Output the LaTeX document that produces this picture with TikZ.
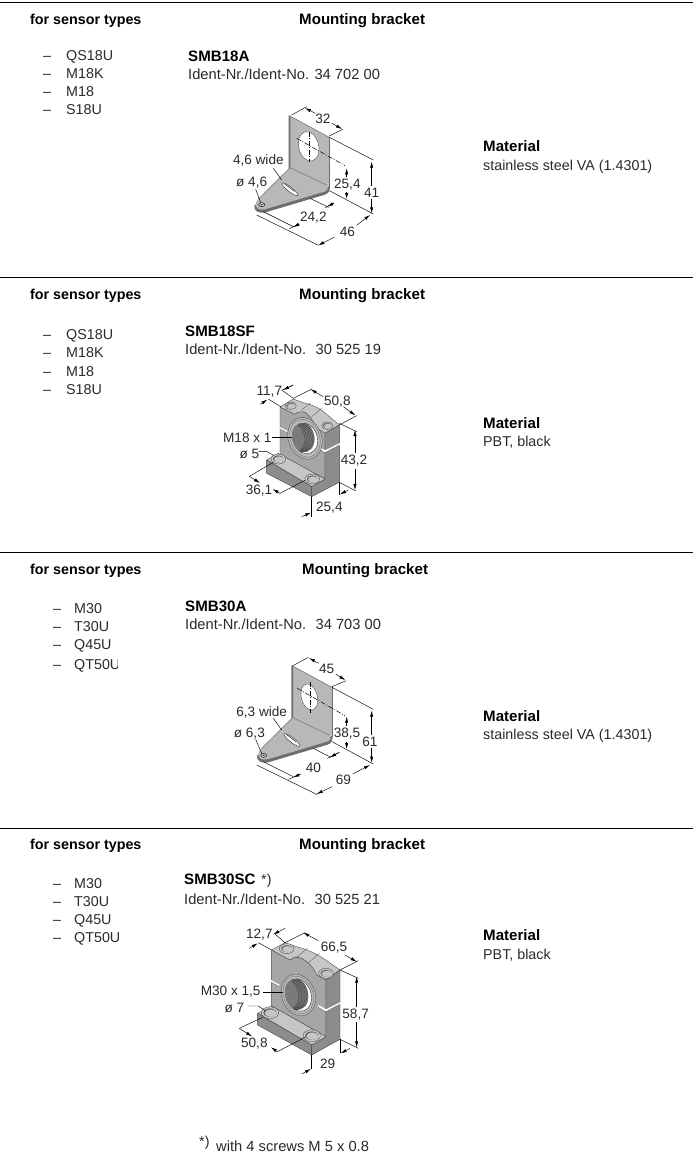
\documentclass[tikz,border=0pt]{standalone}
\usepackage{fontspec}
\setmainfont{Liberation Sans}
\usetikzlibrary{arrows.meta}
\definecolor{plate}{HTML}{B8B8B8}
\definecolor{plateedge}{HTML}{6E6E6E}
\definecolor{blockfront}{HTML}{A6A6A6}
\definecolor{blocktop}{HTML}{C6C6C6}
\definecolor{blockside}{HTML}{8C8C8C}
\definecolor{ink}{HTML}{2A2A2A}
\tikzset{
  txt/.style={anchor=base west,inner sep=0pt,font=\fontsize{14.3}{14}\selectfont,text=ink},
  idt/.style={anchor=base west,inner sep=0pt,font=\fontsize{14.7}{14}\selectfont,text=ink},
  head/.style={anchor=base west,inner sep=0pt,font=\fontsize{14.3}{14}\selectfont\bfseries,text=black},
  headb/.style={anchor=base west,inner sep=0pt,font=\fontsize{15.1}{14}\selectfont\bfseries,text=black},
  dimt/.style={anchor=center,inner sep=0pt,font=\fontsize{13.6}{13}\selectfont,text=ink},
  dimf/.style={dimt,fill=white,inner xsep=0pt,inner ysep=2pt},
  rowrule/.style={black,line width=0.6pt},
  ext/.style={black,line width=0.45pt},
  dimline/.style={black,line width=0.45pt,arrows={Latex[length=6pt,width=3.2pt]-Latex[length=6pt,width=3.2pt]}},
  dimend/.style={black,line width=0.45pt,arrows={-Latex[length=6pt,width=3.2pt]}},
  centre/.style={black,line width=0.5pt,dash pattern=on 5pt off 1.5pt on 1pt off 1.5pt},
  outl/.style={draw=black!75,line width=0.35pt,line join=round},
  zoomed/.style={x=0.33333pt,y=-0.33333pt},
}
% bracket: #1 #2 hole centre, #3 #4 radii, #5 #6 slot centre, #7 #8 small hole
\newcommand{\bracketbody}[8]{%
\fill[plate] (240,48) -- (358,112) -- (358,258) -- (240,203) -- cycle;
\fill[plateedge] (236,46) -- (241,48) -- (241,205) -- (236,208) -- cycle;
\draw[plateedge,line width=0.8pt] (358,112) -- (358,262);
\draw[plateedge,line width=0.5pt] (240,48) -- (358,112);
\fill[plateedge] (133,316) .. controls (130,334) and (148,342) .. (170,336) -- (345,284) .. controls (356,280) and (360,272) .. (360,258) -- (340,262) -- (150,310) -- cycle;
\fill[plate] (240,203) -- (352,256) .. controls (356,262) and (354,268) .. (346,274) -- (168,327) .. controls (150,332) and (134,326) .. (137,310) .. controls (139,303) and (142,300) .. (146,296) -- cycle;
\draw[plateedge,line width=0.5pt] (240,203) -- (352,256);
\draw[plateedge,line width=0.5pt] (240,203) -- (146,296);
\fill[white,draw=black!70,line width=0.4pt,rotate around={14:(#1,#2)}] (#1,#2) ellipse[x radius=#3,y radius=#4];
\fill[white,draw=black!75,line width=0.5pt,rotate around={-38:(#5,#6)}] (#5,#6) ellipse[x radius=30,y radius=7];
\draw[black!75,line width=0.6pt,rotate around={-38:(#5,#6)}] (#5-24,#6-3) -- (#5+14,#6-3);
\fill[plate!70!white,draw=black,line width=0.4pt] (#7,#8) ellipse[x radius=9,y radius=6];
\fill[black!70] (#7,#8) ellipse[x radius=4,y radius=2.5];
}
% bore: #1 #2 centre, #3 #4 outer radii, #5 #6 inner radii
\newcommand{\borehole}[6]{%
\begin{scope}[rotate around={20:(#1,#2)}]
\fill[blocktop!60!blockfront,draw=black!70,line width=0.35pt] (#1,#2) ellipse[x radius=#3,y radius=#4];
\draw[black!60,line width=0.3pt] (#1,#2) ellipse[x radius=#3-6,y radius=#4-6];
\fill[white,draw=black!80,line width=0.4pt] (#1,#2) ellipse[x radius=#5,y radius=#6];
\begin{scope}
\clip (#1,#2) ellipse[x radius=#5,y radius=#6];
\fill[black!52] (#1-8,#2-8) ellipse[x radius=#5,y radius=#6];
\foreach \k in {0,5,...,30}{
  \draw[black!78,line width=0.3pt] (#1-8-\k*0.9,#2-8-\k*0.3) ellipse[x radius=#5,y radius=#6];
}
\end{scope}
\end{scope}
}
% screw seat: #1 #2 centre, #3 size
\newcommand{\screwseat}[3]{%
\fill[blocktop!85!white,draw=black!75,line width=0.35pt] (#1,#2) ellipse[x radius=#3,y radius=#3*0.68];
\fill[black!60] (#1,#2) ellipse[x radius=#3*0.76,y radius=#3*0.5];
\fill[blocktop] (#1+2,#2+1.5) ellipse[x radius=#3*0.68,y radius=#3*0.42];
}
\begin{document}
\begin{tikzpicture}[x=1pt,y=-1pt]
\useasboundingbox (0,0) rectangle (693,1170);
\fill[white] (0,0) rectangle (693,1170);
\coordinate (L1) at (0,2); \coordinate (R1) at (693,2);
\coordinate (L2) at (0,277); \coordinate (R2) at (693,277);
\coordinate (L3) at (0,552); \coordinate (R3) at (693,552);
\coordinate (L4) at (0,828); \coordinate (R4) at (693,828);
\draw[rowrule] (L1) -- (R1);
\draw[rowrule] (L2) -- (R2);
\draw[rowrule] (L3) -- (R3);
\draw[rowrule] (L4) -- (R4);

% ---------- row 1 text
\node[head] (h1a) at (30,24) {for sensor types};
\node[headb] (h1b) at (299,24) {Mounting bracket};
\node[txt] (d1a) at (43,60) {–};
\node[txt] (s1a) at (66,60) {QS18U};
\node[txt] (d1b) at (43,78) {–};
\node[txt] (s1b) at (66,78) {M18K};
\node[txt] (d1c) at (43,96) {–};
\node[txt] (s1c) at (66,96) {M18};
\node[txt] (d1d) at (43,114) {–};
\node[txt] (s1d) at (66,114) {S18U};
\node[headb] (t1a) at (188,61) {SMB18A};
\node[idt] (t1b) at (188,79) {Ident-Nr./Ident-No. 34 702 00};
\node[headb] (m1a) at (483,151) {Material};
\node[txt] (m1b) at (483,170) {stainless steel VA (1.4301)};

% ---------- row 2 text
\node[head] (h2a) at (30,299) {for sensor types};
\node[headb] (h2b) at (299,299) {Mounting bracket};
\node[txt] (d2a) at (43,339) {–};
\node[txt] (s2a) at (66,339) {QS18U};
\node[txt] (d2b) at (43,357) {–};
\node[txt] (s2b) at (66,357) {M18K};
\node[txt] (d2c) at (43,376) {–};
\node[txt] (s2c) at (66,376) {M18};
\node[txt] (d2d) at (43,394) {–};
\node[txt] (s2d) at (66,394) {S18U};
\node[headb] (t2a) at (185,336) {SMB18SF};
\node[idt] (t2b) at (185,354) {Ident-Nr./Ident-No.~ 30 525 19};
\node[headb] (m2a) at (483,428) {Material};
\node[txt] (m2b) at (483,446) {PBT, black};

% ---------- row 3 text
\node[head] (h3a) at (30,574) {for sensor types};
\node[headb] (h3b) at (302,574) {Mounting bracket};
\node[txt] (d3a) at (53,613) {–};
\node[txt] (s3a) at (74,613) {M30};
\node[txt] (d3b) at (53,631) {–};
\node[txt] (s3b) at (74,631) {T30U};
\node[txt] (d3c) at (53,649) {–};
\node[txt] (s3c) at (74,649) {Q45U};
\node[txt] (d3d) at (53,669) {–};
\node[txt] (s3d) at (74,669) {QT50U};
\fill[white] (117.5,655) rectangle (135,675);
\node[headb] (t3a) at (185,611) {SMB30A};
\node[idt] (t3b) at (185,629) {Ident-Nr./Ident-No.~ 34 703 00};
\node[headb] (m3a) at (483,721) {Material};
\node[txt] (m3b) at (483,739) {stainless steel VA (1.4301)};

% ---------- row 4 text
\node[head] (h4a) at (30,849) {for sensor types};
\node[headb] (h4b) at (299,849) {Mounting bracket};
\node[txt] (d4a) at (53,888) {–};
\node[txt] (s4a) at (74,888) {M30};
\node[txt] (d4b) at (53,906) {–};
\node[txt] (s4b) at (74,906) {T30U};
\node[txt] (d4c) at (53,924) {–};
\node[txt] (s4c) at (74,924) {Q45U};
\node[txt] (d4d) at (53,942) {–};
\node[txt] (s4d) at (74,942) {QT50U};
\node[headb] (t4a) at (184,884) {SMB30SC};
\node[txt] (t4s) at (261,884) {*)};
\node[idt] (t4b) at (184,904) {Ident-Nr./Ident-No.~ 30 525 21};
\node[headb] (m4a) at (483,940) {Material};
\node[txt] (m4b) at (483,959) {PBT, black};
\node[txt] (fn1) at (199,1146) {*)};
\node[idt] (fn2) at (216,1151) {with 4 screws M 5 x 0.8};

% ---------- bracket 1
\begin{scope}[shift={(210,100)},zoomed]
\bracketbody{296}{139}{30}{45}{240}{268}{155}{314}
\draw[centre] (297,95) -- (297,185);
\draw[centre] (260,115) -- (405,197);
\draw[ext] (245,45) -- (290,20);
\draw[ext] (358,108) -- (398,88);
\draw[dimend] (316,40) -- (285,24);
\draw[dimend] (366,70) -- (396,87);
\draw[ext] (358,112) -- (490,180);
\draw[ext] (358,272) -- (490,342);
\draw[dimline] (485,185) -- (485,340);
\draw[dimline] (410,205) -- (410,297);
\draw[ext] (300,295) -- (356,322);
\draw[ext] (345,323) -- (372,309);
\draw[dimend] (372,309) -- (352,320);
\draw[ext] (160,335) -- (250,380);
\draw[ext] (238,386) -- (268,372);
\draw[dimend] (268,372) -- (250,381);
\draw[ext] (140,345) -- (325,436);
\draw[dimend] (372,412) -- (325,436);
\draw[dimend] (440,376) -- (480,345);
\draw[ext] (190,205) -- (215,240);
\draw[ext] (137,268) -- (152,308);
\node[dimt] (a32) at (339,56) {32};
\node[dimf] (a41) at (485,278) {41};
\node[dimf] (a254) at (412,254) {25,4};
\node[dimt] (a242) at (310,352) {24,2};
\node[dimt] (a46) at (412,394) {46};
\node[dimt] (a46w) at (145,182) {4,6 wide};
\node[dimt] (a46d) at (125,248) {ø 4,6};
\end{scope}

% ---------- clamp 1
\begin{scope}[shift={(210,375)},zoomed]
\fill[blockfront,outl] (210,96) -- (255,118) .. controls (262,110) and (275,108) .. (285,112) .. controls (315,125) and (330,150) .. (345,175) -- (345,312) -- (210,240) -- cycle;
\fill[blocktop,outl] (210,96) -- (250,72) -- (283,84) .. controls (310,90) and (330,100) .. (350,118) -- (388,150) -- (345,175) -- (318,158) .. controls (310,135) and (295,118) .. (285,112) .. controls (275,108) and (262,110) .. (255,118) -- cycle;
\fill[blockside,outl] (345,175) -- (388,150) -- (388,322) -- (305,365) -- (305,335) -- (345,312) -- cycle;
\fill[blocktop,outl] (170,255) -- (205,235) -- (345,312) -- (305,335) -- cycle;
\fill[blockfront!85!black,outl] (170,255) -- (305,335) -- (305,365) -- (170,295) -- cycle;
\fill[white] (208,155) -- (232,168) -- (232,174) -- (208,161) -- cycle;
\fill[white] (328,216) -- (345,226) -- (390,204) -- (390,210) -- (345,233) -- (328,223) -- cycle;
\draw[black!70,line width=0.3pt] (210,161) -- (232,174);
\draw[black!70,line width=0.3pt] (328,223) -- (345,233) -- (388,210);
\borehole{285}{190}{50}{64}{37}{47}
\screwseat{242}{92}{17}
\screwseat{352}{152}{17}
\screwseat{205}{252}{22}
\screwseat{307}{312}{22}
\draw[black!70,line width=0.3pt] (275,105) -- (302,83);
\draw[black!70,line width=0.3pt] (305,125) -- (335,100);
\draw[ext] (250,70) -- (215,45);
\draw[ext] (212,95) -- (175,72);
\draw[dimend] (150,88) -- (172,74);
\draw[ext] (217,45) -- (250,30);
\draw[dimend] (250,30) -- (219,45);
\draw[ext] (250,70) -- (305,42);
\draw[ext] (388,150) -- (440,122);
\draw[dimend] (340,65) -- (302,43);
\draw[dimend] (400,95) -- (436,121);
\draw[ext] (388,145) -- (440,170);
\draw[ext] (388,322) -- (438,348);
\draw[dimline] (435,165) -- (435,345);
\draw[ext] (305,365) -- (305,425);
\draw[ext] (388,322) -- (388,360);
\draw[dimend] (275,425) -- (303,413);
\draw[dimend] (415,345) -- (390,358);
\draw[ext] (118,304) -- (190,262);
\draw[dimend] (118,304) -- (150,324);
\draw[ext] (210,355) -- (285,316);
\draw[dimend] (210,355) -- (188,342);
\draw[ext] (185,188) -- (245,188);
\draw[ext] (145,230) -- (172,230) -- (192,242);
\node[dimt] (b117) at (178,50) {11,7};
\node[dimt] (b508) at (382,80) {50,8};
\node[dimf] (b432) at (432,258) {43,2};
\node[dimt] (b254) at (358,398) {25,4};
\node[dimt] (b361) at (147,347) {36,1};
\node[dimt] (bm18) at (112,188) {M18 x 1};
\node[dimt] (bd5) at (118,238) {ø 5};
\end{scope}

% ---------- bracket 2
\begin{scope}[shift={(210,650)},zoomed]
\begin{scope}[xshift=2.67pt]
\bracketbody{290}{141}{24}{40}{238}{270}{153}{316}
\end{scope}
\draw[centre,line width=0.9pt] (300,95) -- (300,188);
\draw[centre] (262,115) -- (405,197);
\draw[ext] (247,48) -- (295,22);
\draw[ext] (366,110) -- (408,92);
\draw[dimend] (326,40) -- (297,24);
\draw[dimend] (378,73) -- (406,90);
\draw[ext] (366,112) -- (490,178);
\draw[ext] (366,275) -- (490,342);
\draw[dimline] (485,182) -- (485,338);
\draw[dimline] (410,200) -- (410,297);
\draw[ext] (310,295) -- (362,322);
\draw[ext] (352,325) -- (388,307);
\draw[dimend] (388,307) -- (360,322);
\draw[ext] (160,335) -- (250,380);
\draw[ext] (236,388) -- (272,372);
\draw[dimend] (272,372) -- (250,382);
\draw[ext] (140,345) -- (322,434);
\draw[dimend] (366,410) -- (320,432);
\draw[dimend] (428,372) -- (480,345);
\draw[ext] (190,205) -- (215,240);
\draw[ext] (137,268) -- (156,312);
\node[dimt] (c45) at (350,58) {45};
\node[dimf] (c61) at (480,275) {61};
\node[dimf] (c385) at (411,252) {38,5};
\node[dimt] (c40) at (310,352) {40};
\node[dimt] (c69) at (400,388) {69};
\node[dimt] (c63w) at (155,187) {6,3 wide};
\node[dimt] (c63d) at (118,250) {ø 6,3};
\end{scope}

% ---------- clamp 2
\begin{scope}[shift={(190,920)},zoomed]
\fill[blockfront,outl] (245,90) -- (300,120) .. controls (310,110) and (325,110) .. (335,115) .. controls (365,130) and (390,155) .. (408,180) -- (408,350) -- (245,258) -- cycle;
\fill[blocktop,outl] (245,90) -- (285,68) -- (325,82) .. controls (360,90) and (385,105) .. (410,122) -- (450,150) -- (408,180) -- (380,165) .. controls (370,140) and (350,122) .. (335,115) .. controls (325,110) and (310,110) .. (300,120) -- cycle;
\fill[blockside,outl] (408,180) -- (450,150) -- (450,358) -- (365,405) -- (365,375) -- (408,350) -- cycle;
\fill[blocktop,outl] (203,280) -- (245,258) -- (408,350) -- (365,375) -- cycle;
\fill[blockfront!85!black,outl] (203,280) -- (365,375) -- (365,405) -- (203,315) -- cycle;
\fill[white] (243,180) -- (268,194) -- (268,200) -- (243,186) -- cycle;
\fill[white] (385,255) -- (408,268) -- (452,246) -- (452,252) -- (408,275) -- (385,262) -- cycle;
\draw[black!70,line width=0.3pt] (245,187) -- (268,200);
\draw[black!70,line width=0.3pt] (385,262) -- (408,275) -- (450,252);
\borehole{325}{225}{50}{64}{38}{50}
\screwseat{290}{86}{22}
\screwseat{408}{160}{22}
\screwseat{240}{278}{26}
\screwseat{365}{347}{26}
\draw[black!70,line width=0.3pt] (320,112) -- (352,85);
\draw[black!70,line width=0.3pt] (355,128) -- (388,100);
\draw[ext] (245,90) -- (205,68);
\draw[dimend] (178,85) -- (203,70);
\draw[ext] (285,68) -- (255,42);
\draw[dimend] (285,25) -- (250,43);
\draw[ext] (285,68) -- (345,38);
\draw[ext] (450,150) -- (505,122);
\draw[dimend] (385,62) -- (340,38);
\draw[dimend] (465,105) -- (500,125);
\draw[ext] (450,150) -- (505,175);
\draw[ext] (450,358) -- (505,385);
\draw[dimline] (500,170) -- (500,382);
\draw[ext] (365,405) -- (365,448);
\draw[ext] (450,358) -- (450,400);
\draw[dimend] (335,462) -- (363,447);
\draw[dimend] (480,385) -- (452,400);
\draw[ext] (148,325) -- (218,292);
\draw[dimend] (148,325) -- (186,349);
\draw[ext] (262,395) -- (345,352);
\draw[dimend] (262,395) -- (243,382);
\draw[ext] (218,218) -- (280,218);
\draw[ext] (172,258) -- (205,258) -- (225,272);
\node[dimt] (d127) at (208,44) {12,7};
\node[dimt] (d665) at (432,83) {66,5};
\node[dimf] (d587) at (497,283) {58,7};
\node[dimt] (d29) at (413,430) {29};
\node[dimt] (d508) at (193,372) {50,8};
\node[dimt] (dm30) at (122,216) {M30 x 1,5};
\node[dimt] (dd7) at (133,265) {ø 7};
\end{scope}
\end{tikzpicture}
\end{document}
